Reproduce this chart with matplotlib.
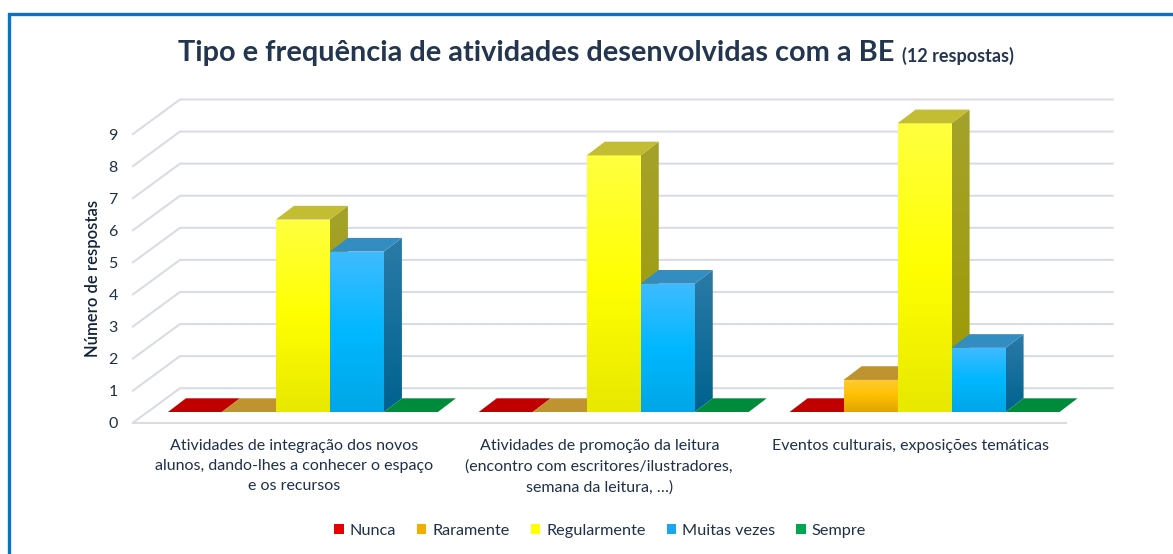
import matplotlib

matplotlib.use("Agg")
import matplotlib.pyplot as plt
import numpy as np
from matplotlib.colors import LinearSegmentedColormap
from matplotlib.patches import Patch, Polygon, Rectangle
from matplotlib.transforms import ScaledTranslation

categories = [
    "Atividades de integração dos novos\nalunos, dando-lhes a conhecer o espaço\ne os recursos",
    "Atividades de promoção da leitura\n(encontro com escritores/ilustradores,\nsemana da leitura, …)",
    "Eventos culturais, exposições temáticas",
]
series_names = ["Nunca", "Raramente", "Regularmente", "Muitas vezes", "Sempre"]
nunca = [0, 0, 0]
raramente = [0, 0, 1]
regularmente = [6, 8, 9]
muitas_vezes = [5, 4, 2]
sempre = [0, 0, 0]
y_ticks = list(range(10))

series_values = [nunca, raramente, regularmente, muitas_vezes, sempre]
# front gradient (top, mid, bottom), side gradient (top, bottom), top face, legend
styles = [
    (["#ff3030", "#e00000", "#c00000"], ["#a00000", "#800000"], "#c00000", "#e60000"),
    (["#ffca35", "#ffc000", "#e0a400"], ["#b58a20", "#a07800"], "#bf9430", "#f2ae00"),
    (["#ffff40", "#ffff00", "#e8e800"], ["#a5a22c", "#9c9900"], "#c2bd33", "#ffff00"),
    (["#40bbff", "#00b8ff", "#00a6e6"], ["#2b7ba8", "#00628f"], "#338dc0", "#1aa7f0"),
    (["#00b050", "#00a048", "#008a3c"], ["#007a35", "#006a2d"], "#008a3c", "#00a54f"),
]
TEXT = "#1f3048"
GRID = "#d9dde3"
FONT = "Lato"

plt.rcParams["font.family"] = [FONT, "DejaVu Sans"]

W, H = 1173, 554
AX_W = 932.5
fig = plt.figure(figsize=(W / 100, H / 100), dpi=100)
ax = fig.add_axes([133 / W, (H - 422.7) / H, AX_W / W, (422.7 - 134) / H])
ax.set_xlim(0, 3)
ax.set_ylim(0, 9)
ax.patch.set_visible(False)
for s in ax.spines.values():
    s.set_visible(False)

# depth of the 3d floor, in data units
unit_x = AX_W / 3
unit_y = (422.7 - 134) / 9
floor_dx = 47 / unit_x
floor_dy = 34.5 / unit_y
bar_w = 54 / unit_x
bar_dx = 18 / unit_x
bar_dy = 13.7 / unit_y
front_dx = 14.5 / unit_x
front_dy = 10.7 / unit_y

# gridlines: back wall and left wall
for v in y_ticks:
    ax.plot([0, floor_dx, 3 + floor_dx], [v, v + floor_dy, v + floor_dy],
            color=GRID, lw=1.5, clip_on=False, zorder=1)
ax.plot([0, 3], [0, 0], color=GRID, lw=1.5, clip_on=False, zorder=1)


def gradient_face(pts, colors, z):
    pts = np.array(pts)
    cmap = LinearSegmentedColormap.from_list("g", colors)
    poly = Polygon(pts, closed=True, fc="none", ec="none", clip_on=False, zorder=z)
    ax.add_patch(poly)
    img = ax.imshow(np.linspace(0, 1, 128)[:, None], cmap=cmap, aspect="auto", origin="upper",
                    extent=[pts[:, 0].min(), pts[:, 0].max(), pts[:, 1].min(), pts[:, 1].max()],
                    zorder=z)
    img.set_clip_box(fig.bbox)
    img.set_clip_path(poly)


z = 3
for si, values in enumerate(series_values):
    front, side, top, _ = styles[si]
    for ci, v in enumerate(values):
        x0 = ci + 0.5 + front_dx + (si - 2.5) * bar_w
        x1 = x0 + bar_w
        y0 = front_dy
        y1 = front_dy + v
        if v > 0:
            gradient_face([(x1, y0), (x1 + bar_dx, y0 + bar_dy), (x1 + bar_dx, y1 + bar_dy), (x1, y1)], side, z)
            gradient_face([(x0, y0), (x1, y0), (x1, y1), (x0, y1)], front, z + 0.1)
        ax.add_patch(Polygon([(x0, y1), (x1, y1), (x1 + bar_dx, y1 + bar_dy), (x0 + bar_dx, y1 + bar_dy)],
                             closed=True, fc=top, ec="none", clip_on=False, zorder=z + 0.2))
    z += 1

ax.set_xlim(0, 3)
ax.set_ylim(0, 9)
ax.set_xticks([0.5, 1.5, 2.5])
ax.set_xticklabels(categories, fontsize=11.5, color=TEXT, linespacing=1.55, va="top")
ax.set_yticks(y_ticks)
ax.tick_params(axis="both", length=0)
ax.tick_params(axis="x", pad=12)
ax.tick_params(axis="y", pad=11, labelsize=11.5, labelcolor=TEXT)
# first label sits a little right of its category centre in the original
lab = ax.get_xticklabels()[0]
lab.set_transform(lab.get_transform() + ScaledTranslation(6 / 100, 0, fig.dpi_scale_trans))

fig.text(93 / W, 1 - 278 / H, "Número de respostas", rotation=90, ha="center", va="center",
         fontsize=12, color="#13233a", fontweight="semibold")

fig.text(178 / W, 1 - 53 / H, "Tipo e frequência de atividades desenvolvidas com a BE",
         ha="left", va="center", fontsize=20.75, fontweight="bold", color="#24364f")
fig.text(902 / W, 1 - 56 / H, "(12 respostas)", ha="left", va="center",
         fontsize=13, fontweight="bold", color="#24364f")

handles = [Patch(fc=st[3], ec="none", label=n) for st, n in zip(styles, series_names)]
fig.legend(handles=handles, loc="center", bbox_to_anchor=(600 / W, 1 - 531 / H), ncol=5, frameon=False,
           fontsize=11.7, labelcolor=TEXT, handlelength=0.6, handleheight=0.6, handletextpad=0.35,
           columnspacing=1.3)

# chart frame
fig.add_artist(Rectangle((8.5 / W, -0.1), 1.2, 1.1 + (H - 14.5) / H - 1, transform=fig.transFigure,
                         fc="none", ec="#0b72c4", lw=2.4))

fig.savefig("out.png", dpi=100)
plt.close(fig)
